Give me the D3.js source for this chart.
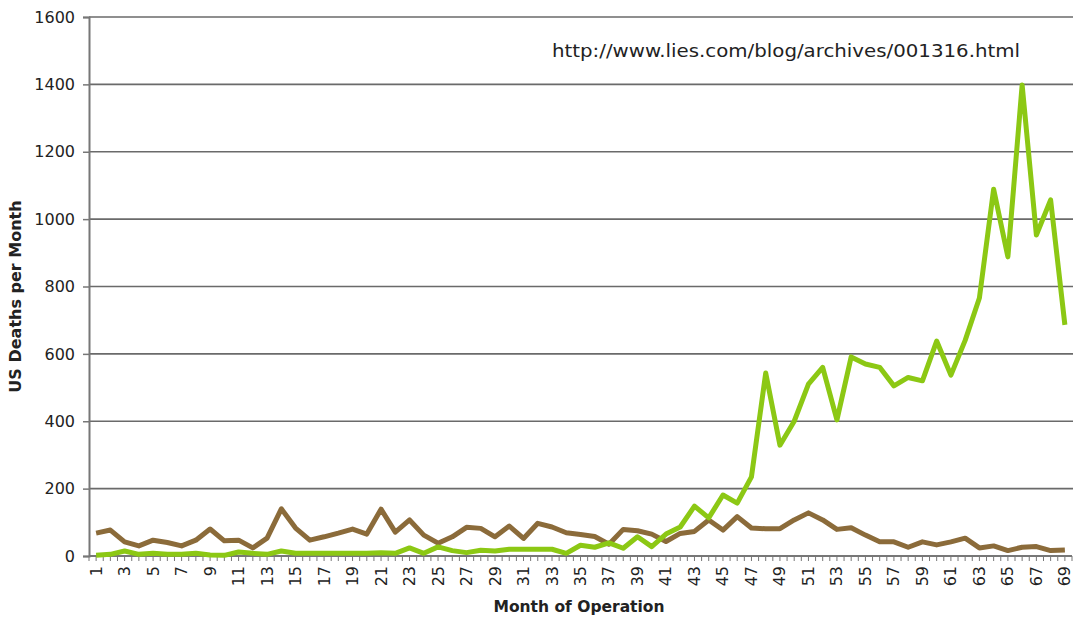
<!DOCTYPE html>
<html>
<head>
<meta charset="utf-8">
<script src="https://cdn.jsdelivr.net/npm/d3@7"></script>
<style>
  body { margin: 0; background: #fff; }
  text { font-family: "DejaVu Sans", Verdana, sans-serif; fill: #222; }
</style>
</head>
<body>
<svg width="1073" height="617"></svg>
<script>
const months = d3.range(1, 70)

// green series
const seriesA = [2, 5, 15, 5, 8, 5, 5, 8, 3, 2, 12, 8, 5, 15, 8, 8, 8, 8, 8, 8,
    10, 8, 24, 8, 27, 16, 10, 17, 15, 20, 20, 20, 20, 8, 32, 26, 39, 23, 57, 28,
    65, 86, 148, 113, 181, 157, 235, 543, 329, 400, 510, 560, 404, 591, 570, 560, 505, 530, 520, 638,
    537, 640, 766, 1089, 888, 1398, 953, 1057, 686]

// brown series
const seriesB = [68, 77, 42, 30, 47, 40, 30, 47, 80, 45, 47, 24, 53, 140, 83, 47, 57, 68, 80, 65,
    139, 71, 107, 62, 38, 57, 85, 82, 57, 89, 52, 97, 86, 69, 64, 58, 35, 79, 75, 65,
    43, 67, 73, 107, 77, 117, 83, 81, 81, 107, 128, 107, 79, 84, 62, 42, 42, 26, 42, 33,
    42, 53, 24, 30, 16, 26, 28, 16, 18]

const yTicks = [0, 200, 400, 600, 800, 1000, 1200, 1400, 1600]
const xLabels = months.filter(m => m % 2 === 1)

const svg = d3.select('svg')
const plotLeft = 89, plotRight = 1072, plotTop = 17, plotBottom = 556

const x = d3.scaleBand()
    .domain(months)
    .range([plotLeft, plotRight])

const y = d3.scaleLinear()
    .domain([0, 1600])
    .range([plotBottom, plotTop])

// grid
svg.append('g')
    .selectAll('line')
    .data(yTicks.filter(d => d > 0))
    .enter()
    .append('line')
    .attr('x1', plotLeft)
    .attr('x2', 1073)
    .attr('y1', d => y(d))
    .attr('y2', d => y(d))
    .attr('stroke', '#6a6a6a')
    .attr('stroke-width', 1.6)

// y axis
const yAxis = svg.append('g')
    .attr('transform', `translate(${plotLeft},0)`)
    .call(d3.axisLeft(y).tickValues(yTicks).tickSize(6).tickPadding(8).tickFormat(d3.format('d')))
yAxis.select('.domain').attr('stroke', '#777').attr('stroke-width', 2)
yAxis.selectAll('.tick line').attr('stroke', '#777').attr('stroke-width', 1.5)
yAxis.selectAll('text').style('font-size', '16px').attr('fill', '#222')

// x axis
const half = x.bandwidth() / 2
const tickPos = d3.range(0, months.length * 2 + 1).map(i => plotLeft + i * half)
svg.append('line')
    .attr('x1', plotLeft).attr('x2', plotRight)
    .attr('y1', plotBottom).attr('y2', plotBottom)
    .attr('stroke', '#777').attr('stroke-width', 2)
svg.append('g')
    .selectAll('line')
    .data(tickPos)
    .enter()
    .append('line')
    .attr('x1', d => d).attr('x2', d => d)
    .attr('y1', plotBottom).attr('y2', plotBottom + 5)
    .attr('stroke', '#777').attr('stroke-width', 1)

svg.append('g')
    .selectAll('text')
    .data(xLabels)
    .enter()
    .append('text')
    .attr('transform', d => `translate(${x(d) + half + 5.5},${plotBottom + 10}) rotate(-90)`)
    .attr('text-anchor', 'end')
    .style('font-size', '16px')
    .text(d => d)

// lines
const line = d3.line()
    .x((d, i) => x(months[i]) + half)
    .y(d => y(d))

svg.append('path')
    .datum(seriesB)
    .attr('d', line)
    .attr('fill', 'none')
    .attr('stroke', '#8b6b3a')
    .attr('stroke-width', 5)
    .attr('stroke-linejoin', 'round')

svg.append('path')
    .datum(seriesA)
    .attr('d', line)
    .attr('fill', 'none')
    .attr('stroke', '#8cc814')
    .attr('stroke-width', 5)
    .attr('stroke-linejoin', 'round')

// titles
svg.append('text')
    .attr('transform', `translate(21,${(plotTop + plotBottom) / 2 + 10}) rotate(-90)`)
    .attr('text-anchor', 'middle')
    .style('font-size', '16px')
    .style('font-weight', 'bold')
    .text('US Deaths per Month')

svg.append('text')
    .attr('x', 579)
    .attr('y', 612)
    .attr('text-anchor', 'middle')
    .style('font-size', '15.5px')
    .style('font-weight', 'bold')
    .text('Month of Operation')

svg.append('text')
    .attr('x', 552)
    .attr('y', 57)
    .attr('textLength', 468)
    .attr('lengthAdjust', 'spacingAndGlyphs')
    .style('font-size', '18px')
    .text('http://www.lies.com/blog/archives/001316.html')
</script>
</body>
</html>
